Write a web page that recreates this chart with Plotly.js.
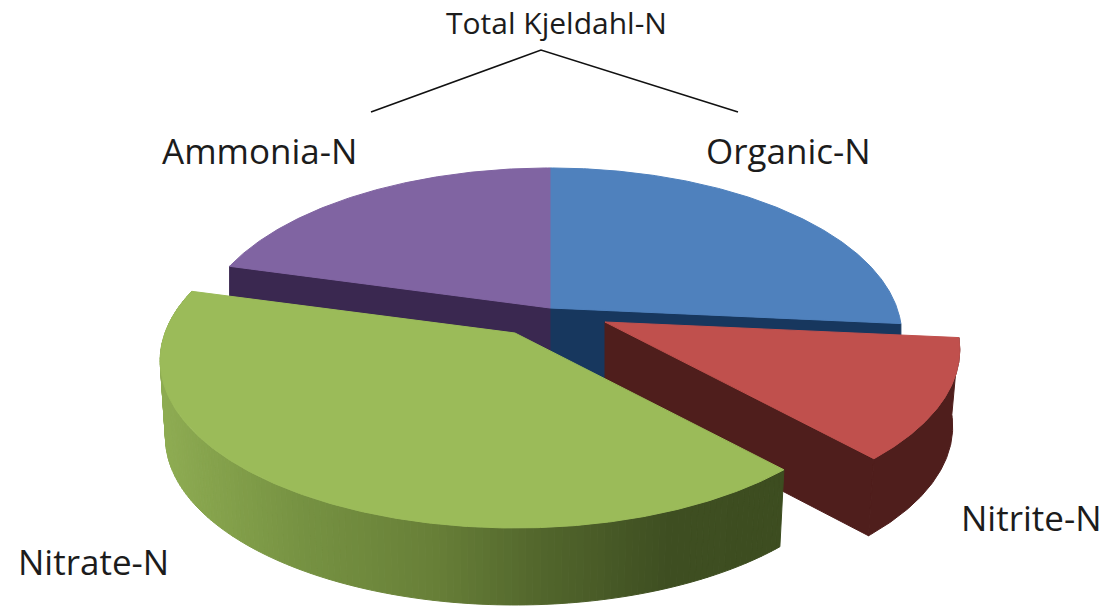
<!DOCTYPE html>
<html>
<head>
<meta charset="utf-8">
<script src="https://cdn.plot.ly/plotly-3.0.1.min.js"></script>
<style>html,body{margin:0;padding:0;background:#fff}#chart{width:1104px;height:607px}</style>
</head>
<body>
<div id="chart"></div>
<script>
// Data, clockwise from 12 o'clock
const categories = ['Organic-N', 'Nitrite-N', 'Nitrate-N', 'Ammonia-N'];
const shares = [26.5, 11.7, 41.1, 20.7];
const groupLabel = 'Total Kjeldahl-N';

// Styles
const topColours = ['#4f81bd', '#c0504d', '#9bbb59', '#8064a2'];
const wallColours = ['#17375e', '#4f1e1c', '#4f6228', '#3a2850'];
const greenRamp = [[160, [142, 172, 82]], [300, [118, 146, 66]], [430, [104, 128, 56]], [540, [82, 102, 44]], [670, [62, 78, 33]], [790, [61, 77, 32]]];

// Projection of the tilted pie into page pixels
const centres = [[550, 308], [605, 322], [515, 333], [550, 308]];
const widths = [347, 350, 350, 347];
const floorScale = [1, 0.98, 0.985, 1];
const K = 0.164, TILT = 163, DEPTH = 77;

function project(slice, deg, r, drop) {
  const t = deg * Math.PI / 180, u = r * Math.sin(t), v = -r * Math.cos(t), w = 1 - K * v;
  const s = drop ? floorScale[slice] : 1;
  return [centres[slice][0] + s * widths[slice] * u / w, centres[slice][1] + TILT * v / w + drop];
}
function poly(points, colour) {
  return {type: 'scatter', mode: 'lines', x: points.map(p => p[0]), y: points.map(p => p[1]),
          fill: 'toself', fillcolor: colour, line: {color: colour, width: 1}, hoverinfo: 'skip', showlegend: false};
}
function arcRange(a, b) { const out = [], n = Math.ceil(Math.abs(b - a) * 2); for (let i = 0; i <= n; i++) out.push(a + (b - a) * i / n); return out; }
function rampColour(x) {
  let i = 0; while (i < greenRamp.length - 2 && x > greenRamp[i + 1][0]) i++;
  const [x0, c0] = greenRamp[i], [x1, c1] = greenRamp[i + 1];
  const f = Math.min(1, Math.max(0, (x - x0) / (x1 - x0)));
  return 'rgb(' + c0.map((c, j) => Math.round(c + (c1[j] - c) * f)).join(',') + ')';
}

// Slice angles from the shares
const total = shares.reduce((a, b) => a + b, 0);
const bounds = [0];
shares.forEach(s => bounds.push(bounds[bounds.length - 1] + s / total * 360));

function topFace(i) {
  const pts = [project(i, 0, 0, 0)];
  arcRange(bounds[i], bounds[i + 1]).forEach(d => pts.push(project(i, d, 1, 0)));
  pts.push(pts[0]);
  return poly(pts, topColours[i]);
}
function cutFace(i, deg) {
  const a = project(i, 0, 0, 0), b = project(i, deg, 1, 0);
  const a2 = project(i, 0, 0, DEPTH), b2 = project(i, deg, 1, DEPTH);
  return poly([a, b, b2, a2, a], wallColours[i]);
}
function rim(i, a0, a1, colour) {
  const arc = arcRange(a0, a1), pts = arc.map(d => project(i, d, 1, 0));
  arc.slice().reverse().forEach(d => pts.push(project(i, d, 1, DEPTH)));
  pts.push(pts[0]);
  return poly(pts, colour);
}

const traces = [];
// back slices: organic and ammonia
traces.push(cutFace(0, bounds[1]));
traces.push(cutFace(3, bounds[3]));
traces.push(topFace(0));
traces.push(topFace(3));
// exploded nitrite
traces.push(cutFace(1, bounds[2]));
traces.push(rim(1, bounds[1], bounds[2], wallColours[1]));
traces.push(topFace(1));
// nitrate with its shaded rim, strip by strip
const stripStep = 1;
for (let d = bounds[2]; d < bounds[3]; d += stripStep) {
  const e = Math.min(d + stripStep, bounds[3]);
  const mid = project(2, (d + e) / 2, 1, 0)[0];
  traces.push(rim(2, d, e, rampColour(mid)));
}
traces.push(topFace(2));

// Bracket over the two Kjeldahl components (page-space callout)
const bracket = {type: 'scatter', mode: 'lines', x: [371, 541, 738], y: [112, 50, 112],
  line: {color: '#111', width: 1.6}, hoverinfo: 'skip', showlegend: false};
traces.push(bracket);

const labelFont = {family: '"Open Sans", Lato, sans-serif', color: '#1c1c1c'};
const labelPos = [[788, 150], [1031, 517], [93, 561], [259, 150]];
const annotations = categories.map((c, i) => ({
  x: labelPos[i][0], y: labelPos[i][1], xref: 'x', yref: 'y', text: c, showarrow: false,
  xanchor: 'center', yanchor: 'middle', font: Object.assign({size: 35}, labelFont)
}));
annotations.push({x: 556, y: 22, xref: 'x', yref: 'y', text: groupLabel, showarrow: false,
  xanchor: 'center', yanchor: 'middle', font: Object.assign({size: 30}, labelFont)});

Plotly.newPlot('chart', traces, {
  width: 1104, height: 607, margin: {l: 0, r: 0, t: 0, b: 0},
  paper_bgcolor: '#fff', plot_bgcolor: '#fff', showlegend: false, hovermode: false,
  xaxis: {range: [0, 1104], visible: false, fixedrange: true},
  yaxis: {range: [607, 0], visible: false, fixedrange: true},
  annotations: annotations
}, {staticPlot: true, displayModeBar: false});
</script>
</body>
</html>
